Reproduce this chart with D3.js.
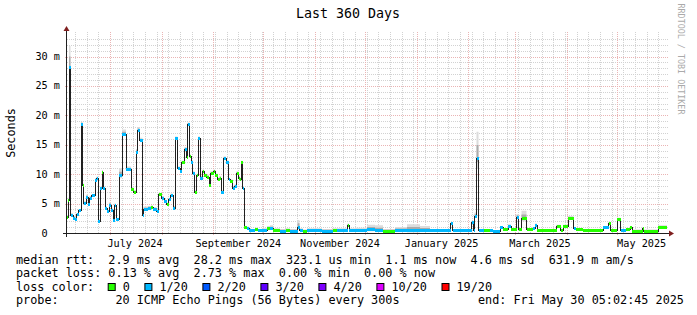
<!DOCTYPE html>
<html>
<head>
<meta charset="utf-8">
<script src="https://cdn.jsdelivr.net/npm/d3@7"></script>
<style>
  body { margin: 0; background: #fff; }
  text { font-family: "DejaVu Sans Mono", monospace; white-space: pre; }
</style>
</head>
<body>
<svg id="chart" width="697" height="315"></svg>
<script>
// samples: days since graph start, median rtt (ms), loss bucket, highest ping (ms)
var sampleDays = [0.0, 0.6, 1.2, 2.1, 3.6, 4.8, 5.7, 6.9, 8.4, 9.3, 9.9, 11.4, 12.6, 13.5, 14.7, 16.8, 17.7, 18.6, 19.8, 21.0,
  21.6, 22.8, 24.0, 25.2, 26.4, 27.6, 28.5, 29.4, 31.2, 33.0, 35.4, 38.4, 39.9, 41.4, 42.3, 43.5, 45.3, 45.9, 48.6, 50.4,
  51.6, 53.7, 54.9, 56.7, 58.2, 59.7, 60.9, 62.1, 63.6, 64.8, 66.3, 67.8, 68.7, 70.5, 71.7, 72.3, 73.5, 74.4, 75.3, 76.5,
  77.7, 78.6, 79.8, 81.3, 82.2, 83.7, 85.2, 86.1, 87.9, 88.8, 90.3, 91.5, 92.4, 93.9, 95.4, 96.9, 97.8, 99.3, 100.5, 101.7,
  102.9, 103.8, 104.4, 105.3, 106.2, 107.7, 109.2, 112.8, 114.6, 117.6, 120.0, 121.8, 123.6, 127.8, 131.4, 133.8, 138.3, 139.5, 141.6, 144.0,
  148.8, 153.0, 159.6, 162.0, 168.3, 169.2, 172.8, 180.0, 184.8, 189.6, 196.8, 204.0, 211.8, 217.8, 230.1, 231.3, 242.7, 243.9, 244.5, 245.7,
  246.9, 250.2, 253.8, 255.6, 259.8, 261.6, 264.6, 266.4, 269.7, 270.9, 272.7, 275.7, 279.3, 280.8, 282.0, 293.7, 296.1, 297.6, 300.6, 303.9,
  305.4, 309.6, 321.6, 324.9, 326.1, 330.0, 332.1, 335.4, 337.8, 339.0, 345.3, 345.9, 354.6];
var medianMs = [2.8, 5.6, 28.2, 3.0, 2.6, 2.4, 3.2, 3.9, 18.6, 8.2, 5.1, 6.2, 5.0, 6.0, 6.4, 9.0, 9.3, 2.1, 7.6, 10.4,
  7.6, 4.3, 3.7, 4.8, 3.9, 2.2, 4.7, 2.3, 9.8, 16.8, 10.8, 7.4, 7.0, 13.8, 17.5, 15.8, 3.0, 4.1, 4.3, 4.4,
  4.1, 3.8, 6.6, 6.0, 5.4, 4.9, 5.7, 6.4, 4.3, 16.1, 11.0, 10.5, 12.0, 14.3, 13.0, 18.5, 13.1, 12.1, 10.2, 7.0,
  9.8, 16.1, 9.4, 10.5, 9.8, 9.6, 8.2, 10.2, 10.5, 9.8, 9.1, 9.4, 7.0, 12.7, 12.1, 9.1, 8.8, 7.6, 8.0, 10.2,
  9.4, 9.1, 12.0, 7.6, 1.0, 0.9, 0.5, 0.6, 0.5, 0.5, 0.8, 0.8, 0.5, 0.4, 0.5, 0.4, 1.1, 0.5, 0.4, 0.45,
  0.5, 0.4, 0.5, 0.45, 1.4, 0.5, 0.5, 0.6, 0.5, 0.4, 0.5, 0.5, 0.5, 0.45, 1.65, 0.45, 1.8, 0.5, 2.9, 12.7,
  0.45, 0.5, 0.5, 0.3, 0.95, 0.6, 1.2, 0.6, 2.8, 0.6, 2.5, 0.6, 0.8, 1.4, 0.5, 1.2, 0.5, 1.2, 2.5, 0.8,
  0.6, 0.5, 1.0, 1.7, 0.5, 2.3, 0.5, 0.6, 1.0, 0.4, 0.9, 0.4, 1.1];
var lossIdx = [0, 0, 1, 1, 1, 1, 1, 1, 1, 0, 1, 1, 1, 1, 1, 1, 1, 1, 1, 0,
  1, 1, 1, 1, 1, 1, 1, 1, 1, 1, 1, 0, 0, 1, 1, 1, 1, 1, 1, 0,
  1, 1, 0, 1, 1, 0, 1, 1, 1, 1, 1, 1, 0, 1, 0, 1, 0, 1, 1, 0,
  0, 1, 1, 0, 0, 0, 0, 0, 0, 0, 0, 0, 1, 1, 1, 1, 0, 1, 1, 0,
  0, 0, 0, 1, 0, 1, 1, 0, 1, 1, 0, 1, 0, 1, 0, 1, 1, 1, 0, 1,
  1, 1, 0, 1, 0, 1, 1, 1, 1, 0, 1, 1, 1, 1, 1, 1, 1, 1, 1, 1,
  1, 0, 1, 1, 1, 0, 1, 0, 1, 0, 0, 0, 1, 1, 0, 0, 0, 0, 0, 1,
  0, 0, 1, 0, 0, 0, 1, 0, 0, 0, 0, 0, 0];
var smokeMaxMs = [3.0, 6.0, 31.8, 3.4, 2.9, 2.7, 3.4, 4.1, 18.9, 8.5, 5.4, 6.5, 5.3, 6.3, 6.6, 9.3, 9.6, 2.3, 7.9, 10.7,
  7.9, 4.5, 3.9, 5.2, 4.2, 2.4, 5.0, 2.5, 11.0, 17.6, 11.3, 7.8, 7.3, 14.3, 18.0, 16.2, 3.3, 4.5, 4.6, 4.7,
  4.4, 4.0, 6.8, 6.3, 5.7, 5.2, 6.0, 6.7, 4.6, 16.4, 11.3, 10.8, 12.3, 14.6, 13.3, 18.8, 13.4, 12.4, 10.5, 7.3,
  10.1, 16.4, 9.7, 10.8, 10.1, 9.9, 8.5, 10.5, 10.8, 10.1, 9.4, 9.7, 7.3, 13.0, 12.4, 9.4, 9.1, 7.9, 8.3, 10.5,
  9.7, 9.4, 12.3, 7.9, 1.2, 1.1, 0.7, 0.9, 0.7, 0.8, 1.2, 1.3, 0.8, 0.7, 0.8, 0.7, 2.2, 0.8, 0.6, 0.8,
  0.8, 0.7, 0.8, 0.8, 1.6, 0.8, 0.9, 1.4, 1.3, 0.7, 1.0, 1.5, 1.2, 0.7, 1.8, 0.6, 2.0, 0.7, 3.5, 17.2,
  0.6, 0.7, 0.7, 0.5, 1.2, 0.8, 1.5, 0.8, 3.2, 0.8, 3.8, 0.8, 1.0, 1.6, 0.7, 1.4, 0.7, 1.4, 2.9, 1.0,
  0.8, 0.7, 1.2, 1.9, 0.7, 2.6, 0.7, 0.8, 1.2, 0.6, 1.0, 0.6, 1.3];

var lossLabels = ["0", "1/20", "2/20", "3/20", "4/20", "10/20", "19/20"];
var lossColors = ["#26ff00", "#00b8ff", "#0059ff", "#5e00ff", "#7e00ff", "#dd00ff", "#ff0000"];
var yMajorTicks = [0, 5, 10, 15, 20, 25, 30];
var statLines = [
  "median rtt:  2.9 ms avg  28.2 ms max  323.1 us min  1.1 ms now  4.6 ms sd  631.9 m am/s",
  "packet loss: 0.13 % avg  2.73 % max  0.00 % min  0.00 % now"
];
var probeText = "probe:        20 ICMP Echo Pings (56 Bytes) every 300s";
var endText = "end: Fri May 30 05:02:45 2025";

var svg = d3.select("#chart");
var X0 = 67, X1 = 667, Y0 = 233, Y1 = 33;

var start = new Date(2024, 5, 5, 5, 0, 0);
var end = d3.timeDay.offset(start, 360);
var x = d3.scaleTime().domain([start, end]).range([X0, X1]);
var y = d3.scaleLinear().domain([0, 34]).range([Y0, Y1]);

var pts = sampleDays.map(function(d, i) {
  return { t: new Date(+start + d * 864e5), m: medianMs[i], l: lossIdx[i], s: smokeMaxMs[i] };
});
var last = pts[pts.length - 1];
pts.push({ t: end, m: last.m, l: last.l, s: last.s });

svg.append("rect").attr("width", 697).attr("height", 315).attr("fill", "#fff");

// grid (dotted, like rrdtool)
var grid = svg.append("g").attr("shape-rendering", "crispEdges");
var minorCol = "#d2d2d2", majorCol = "#eab4b4";
var monthX = d3.timeMonth.range(start, end).map(function(t) { return Math.round(x(t)); });
d3.range(1, 34).filter(function(v) { return v % 5 !== 0; }).forEach(function(v) {
  var yy = Math.round(y(v)) + 0.5;
  grid.append("line").attr("x1", X0).attr("x2", X1 + 1).attr("y1", yy).attr("y2", yy)
    .attr("stroke", minorCol).attr("stroke-dasharray", "1,1");
});
d3.timeMonday.range(start, end).forEach(function(t) {
  var px = Math.round(x(t));
  if (monthX.indexOf(px) >= 0) return;
  grid.append("line").attr("x1", px + 0.5).attr("x2", px + 0.5).attr("y1", Y0).attr("y2", Y1 - 1)
    .attr("stroke", minorCol).attr("stroke-dasharray", "1,1");
});
yMajorTicks.slice(1).forEach(function(v) {
  var yy = Math.round(y(v)) + 0.5;
  grid.append("line").attr("x1", X0 - 2).attr("x2", X1 + 2).attr("y1", yy).attr("y2", yy)
    .attr("stroke", majorCol).attr("stroke-dasharray", "1,1");
});
monthX.forEach(function(px) {
  grid.append("line").attr("x1", px + 0.5).attr("x2", px + 0.5).attr("y1", Y0 + 2).attr("y2", Y1 - 1)
    .attr("stroke", majorCol).attr("stroke-dasharray", "1,1");
});

// smoke
var smokeOuter = d3.area().curve(d3.curveStepAfter)
  .x(function(d) { return x(d.t); })
  .y0(function(d) { return y(Math.max(0, d.m - (d.s - d.m) * 0.4)); })
  .y1(function(d) { return y(d.s); });
var smokeInner = d3.area().curve(d3.curveStepAfter)
  .x(function(d) { return x(d.t); })
  .y0(function(d) { return y(Math.max(0, d.m - (d.s - d.m) * 0.15)); })
  .y1(function(d) { return y(d.m + (d.s - d.m) * 0.5); });
svg.append("path").attr("d", smokeOuter(pts)).attr("fill", "#dcdcdc");
svg.append("path").attr("d", smokeInner(pts)).attr("fill", "#ababab");

// median line
var medLine = d3.line().curve(d3.curveStepAfter)
  .x(function(d) { return x(d.t); })
  .y(function(d) { return Math.round(y(d.m)) + 0.5; });
svg.append("path").attr("d", medLine(pts)).attr("fill", "none")
  .attr("stroke", "#202020").attr("stroke-width", 1).attr("shape-rendering", "crispEdges");

// loss coloured median bands
svg.append("g").attr("shape-rendering", "crispEdges").selectAll("rect")
  .data(pts.slice(0, -1))
  .enter().append("rect")
  .attr("x", function(d) { return x(d.t); })
  .attr("width", function(d, i) { return Math.max(0.8, x(pts[i + 1].t) - x(d.t)); })
  .attr("y", function(d) { return Math.round(y(d.m)) - 1; })
  .attr("height", 3)
  .attr("fill", function(d) { return lossColors[d.l]; });

// axes
var axisCol = "#202020", arrowCol = "#7f1f1f";
svg.append("line").attr("x1", X0 - 4).attr("x2", X1 + 3).attr("y1", Y0 + 0.5).attr("y2", Y0 + 0.5)
  .attr("stroke", axisCol).attr("shape-rendering", "crispEdges");
svg.append("line").attr("x1", X0 - 0.5).attr("x2", X0 - 0.5).attr("y1", Y0 + 4).attr("y2", Y1 - 3)
  .attr("stroke", axisCol).attr("shape-rendering", "crispEdges");
svg.append("path").attr("d", "M" + (X1 + 2) + "," + (Y0 - 2.5) + "L" + (X1 + 7) + "," + (Y0 + 0.5) + "L" + (X1 + 2) + "," + (Y0 + 3.5) + "Z")
  .attr("fill", arrowCol);
svg.append("path").attr("d", "M" + (X0 - 3.5) + "," + (Y1 - 2) + "L" + (X0 - 0.5) + "," + (Y1 - 7) + "L" + (X0 + 2.5) + "," + (Y1 - 2) + "Z")
  .attr("fill", arrowCol);

// y labels
svg.append("g").selectAll("text").data(yMajorTicks).enter().append("text")
  .attr("x", 60).attr("y", function(v) { return y(v) + 3.5; })
  .attr("text-anchor", "end").attr("font-size", "10.2px").attr("fill", "#000")
  .text(function(v) { return v === 0 ? "0  " : v + " m"; });

// x labels, mid-month every second month
var fmt = d3.timeFormat("%B %Y");
var labelMonths = d3.timeMonth.range(start, end).filter(function(t) { return t.getMonth() % 2 === 0; });
svg.append("g").selectAll("text").data(labelMonths).enter().append("text")
  .attr("x", function(t) { return x(new Date(t.getFullYear(), t.getMonth(), 16)); })
  .attr("y", 246.5).attr("text-anchor", "middle").attr("font-size", "10.2px").attr("fill", "#000")
  .text(fmt);

// titles
svg.append("text").attr("x", 348).attr("y", 18).attr("text-anchor", "middle")
  .attr("font-size", "13.3px").text("Last 360 Days");
svg.append("text").attr("transform", "translate(15,133) rotate(-90)").attr("text-anchor", "middle")
  .attr("font-size", "11.8px").text("Seconds");
svg.append("text").attr("transform", "translate(678,3.5) rotate(90)")
  .attr("font-size", "8.4px").attr("fill", "#aaaaaa").text("RRDTOOL / TOBI OETIKER");

// legend
var lg = svg.append("g").attr("font-size", "11.8px").attr("fill", "#000");
statLines.forEach(function(s, i) {
  lg.append("text").attr("x", 16).attr("y", 263.5 + i * 13.5).text(s);
});
lg.append("text").attr("x", 16).attr("y", 290.5).text("loss color:");
var lx = 122.7;
lossLabels.forEach(function(lab, i) {
  lg.append("rect").attr("x", lx - 14.5).attr("y", 283.5).attr("width", 7).attr("height", 7)
    .attr("fill", lossColors[i]).attr("stroke", "#000").attr("stroke-width", 1);
  lg.append("text").attr("x", lx).attr("y", 290.5).text(lab);
  lx += lab.length * 7.1 + 29.6;
});
lg.append("text").attr("x", 16).attr("y", 304).text(probeText);
lg.append("text").attr("x", 478).attr("y", 304).text(endText);
</script>
</body>
</html>
